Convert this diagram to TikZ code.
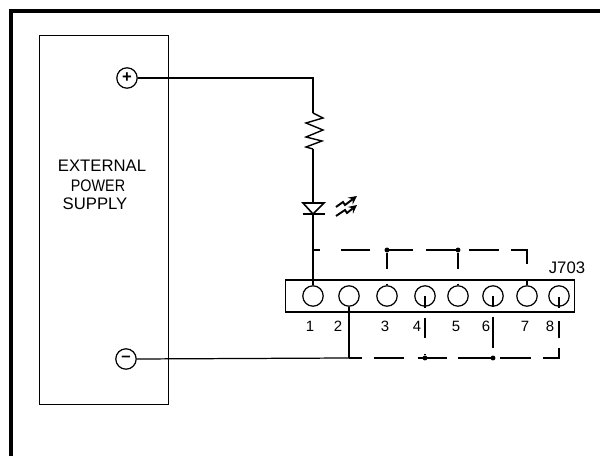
\documentclass[tikz,border=0pt]{standalone}
\usepackage{fontspec}
\setmainfont{Liberation Sans}
\begin{document}
\begin{tikzpicture}[line cap=butt,line join=miter,>=stealth,x=0.02cm,y=-0.02cm,
  wire/.style={line width=0.7pt},
  term/.style={circle,draw,line width=0.7pt,minimum size=11.6pt,inner sep=0pt},
  dot/.style={circle,fill=black,minimum size=2.8pt,inner sep=0pt},
  pinlabel/.style={font=\fontsize{8.5}{8.5}\selectfont,inner sep=0pt},
  title/.style={font=\fontsize{9.5}{9.5}\selectfont,inner sep=0pt}]
\useasboundingbox (0,0) rectangle (600,456);
\draw[line width=2.3pt] (11,456)--(11,11)--(600,11);
\node[draw,line width=0.7pt,minimum width=73.7pt,minimum height=210.3pt,inner sep=0pt] (supply) at (104,220) {};
\node[title] (ext) at (102,166) {EXTERNAL};
\node[title,xscale=0.86] (pow) at (98,186) {POWER};
\node[title] (sup) at (95,204) {SUPPLY};
\node[term,font=\fontsize{9.5}{9.5}\selectfont\bfseries] (plus) at (127,78) {+};
\node[term,font=\fontsize{9.5}{9.5}\selectfont\bfseries] (minus) at (126,359) {--};
\node[draw,line width=0.7pt,minimum width=164.4pt,minimum height=18.1pt,inner sep=0pt] (conn) at (430,296) {};
\node[title] (jname) at (567,268) {J703};
\foreach \n/\x in {1/313,2/349,3/387,4/425,5/458,6/493,7/527,8/559}
{
\node[term] (pin\n) at (\x,296) {};
}
\foreach \n/\x in {1/310,2/338,3/385,4/417,5/456,6/486,7/525,8/550}
{
\node[pinlabel] (num\n) at (\x,326) {\n};
}
% resistor and led
\coordinate (restop) at (313,113);
\coordinate (resbot) at (313,149);
\coordinate (ledtop) at (313,203);
\coordinate (ledbot) at (313,214);
\coordinate (tap) at (313,250);
\draw[wire] (plus.east)-|(restop);
\draw[line width=0.8pt] (restop)--(323,118)--(306,123)--(323,130)--(306,137)--(322,141)--(306,147)--(resbot);
\draw[wire] (resbot)--(ledtop);
\draw[line width=0.9pt] (303,203)--(324,203)--(ledbot)--cycle;
\draw[line width=0.9pt] (303,214)--(325,214);
\draw[wire] (ledbot)--(pin1.north);
\draw[->,line width=1.1pt] (336,207)--(343,202)--(345,205)--(357,196);
\draw[->,line width=1.1pt] (336,216)--(345,210)--(347,213)--(357,205);
% jumpers on top
\node[dot] (top3) at (387,250) {};
\node[dot] (top5) at (458,250) {};
\draw[wire,dash pattern=on 4pt off 11.9pt on 16.4pt off 8.5pt on 15.9pt off 7.9pt on 17pt off 7.4pt on 17pt off 6.8pt on 17pt off 8.5pt on 4pt off 30pt] (tap)-|(pin7.north);
\draw[wire,dash pattern=on 9pt off 8.5pt on 4pt off 30pt] (top3)--(pin3.north);
\draw[wire,dash pattern=on 9pt off 8.5pt on 4pt off 30pt] (top5)--(pin5.north);
% return side
\coordinate (ret) at (349,358);
\node[dot] (bot4) at (425,358) {};
\node[dot] (bot6) at (493,358) {};
\draw[wire] (minus.east)--(ret);
\draw[wire] (ret)--(pin2.south);
\draw[wire,dash pattern=on 7.4pt off 6.8pt on 17pt off 7.9pt on 16.4pt off 6.8pt on 18.7pt off 5.1pt on 17.6pt off 6.8pt on 14.7pt off 5.7pt on 9.6pt off 7.4pt on 6.2pt off 30pt] (ret)-|(pin8.center);
\draw[wire,dash pattern=on 6.8pt off 5.7pt on 11.3pt off 9pt on 2.3pt off 30pt] (pin4.center)--(bot4);
\draw[wire,dash pattern=on 6.2pt off 5.7pt on 17.6pt off 5.7pt on 2.3pt off 30pt] (pin6.center)--(bot6);
\end{tikzpicture}
\end{document}
